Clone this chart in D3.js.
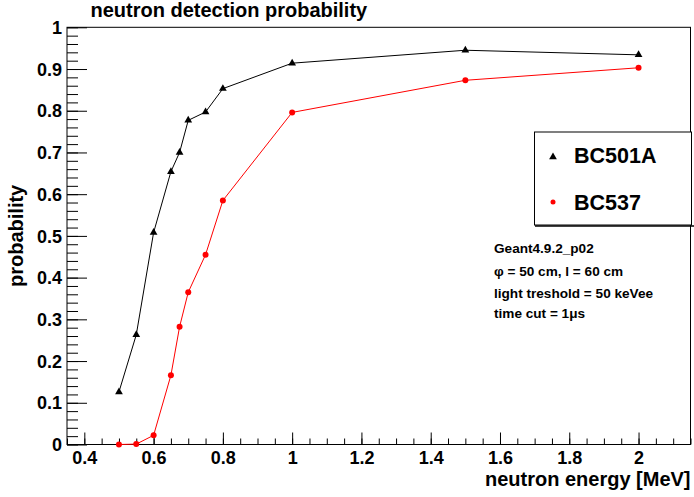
<!DOCTYPE html>
<html>
<head>
<meta charset="utf-8">
<script src="https://cdn.jsdelivr.net/npm/d3@7"></script>
<style>
  html, body { margin: 0; padding: 0; background: #fff; }
  svg { display: block; }
  text { font-family: "Liberation Sans", Arial, sans-serif; font-weight: bold; fill: #000; }
</style>
</head>
<body>
<svg id="chart" width="694" height="497"></svg>
<script>
// ---- data ----
const energy = [0.5, 0.55, 0.6, 0.65, 0.675, 0.7, 0.75, 0.8, 1.0, 1.5, 2.0];
const bc501a = [0.126, 0.263, 0.508, 0.654, 0.700, 0.777, 0.797, 0.853, 0.914, 0.945, 0.934];
const bc537  = [0.000, 0.001, 0.022, 0.166, 0.282, 0.365, 0.455, 0.585, 0.796, 0.873, 0.903];
const seriesNames = ["BC501A", "BC537"];
const xTicks = [0.4, 0.6, 0.8, 1.0, 1.2, 1.4, 1.6, 1.8, 2.0];
const yTicks = [0, 0.1, 0.2, 0.3, 0.4, 0.5, 0.6, 0.7, 0.8, 0.9, 1.0];
const notes = ["Geant4.9.2_p02", "φ = 50 cm, l = 60 cm", "light treshold = 50 keVee", "time cut = 1μs"];
const titleText = "neutron detection probability";
const xTitle = "neutron energy [MeV]";
const yTitle = "probability";

// ---- layout ----
const L = 67, R = 690.5, T = 27.3, B = 444.5;
const svg = d3.select("#chart");
const x = d3.scaleLinear().domain([0.35, 2.15]).range([L, R]);
const y = d3.scaleLinear().domain([0, 1]).range([B, T]);

// frame
svg.append("rect").attr("x", L).attr("y", T).attr("width", R - L).attr("height", B - T)
  .attr("fill", "none").attr("stroke", "#000").attr("stroke-width", 1);

// x axis (ticks drawn inward, upward)
const xMinor = d3.range(0, 37).map(i => +(0.35 + i * 0.05).toFixed(3)).filter(v => v <= 2.15);
const xAxisMinor = d3.axisBottom(x).tickValues(xMinor).tickSize(-6).tickFormat("");
const xAxisMajor = d3.axisBottom(x).tickValues(xTicks).tickSize(-12).tickPadding(20)
  .tickFormat(d => d3.format("")(+d.toFixed(1)));
const gxm = svg.append("g").attr("transform", `translate(0,${B})`).call(xAxisMinor);
const gx = svg.append("g").attr("transform", `translate(0,${B})`).call(xAxisMajor);
[gxm, gx].forEach(g => { g.select(".domain").remove(); g.selectAll("line").attr("stroke", "#000"); });
gx.selectAll("text").attr("font-size", 18).attr("font-family", "Liberation Sans").attr("font-weight", "bold")
  .attr("fill", "#000").attr("dy", null).attr("y", 19);

// y axis (ticks drawn inward, right)
const yMinor = d3.range(0, 51).map(i => +(i * 0.02).toFixed(3));
const yAxisMinor = d3.axisLeft(y).tickValues(yMinor).tickSize(-11).tickFormat("");
const yAxisMajor = d3.axisLeft(y).tickValues(yTicks).tickSize(-20).tickPadding(25)
  .tickFormat(d => d3.format("")(+d.toFixed(1)));
const gym = svg.append("g").attr("transform", `translate(${L},0)`).call(yAxisMinor);
const gy = svg.append("g").attr("transform", `translate(${L},0)`).call(yAxisMajor);
[gym, gy].forEach(g => { g.select(".domain").remove(); g.selectAll("line").attr("stroke", "#000"); });
gy.selectAll("text").attr("font-size", 18).attr("font-family", "Liberation Sans").attr("font-weight", "bold")
  .attr("fill", "#000").attr("x", -5).attr("dy", "0.34em");

// titles
svg.append("text").attr("x", 90.5).attr("y", 17).attr("font-size", 20).text(titleText);
svg.append("text").attr("x", R).attr("y", 486).attr("text-anchor", "end").attr("font-size", 20).text(xTitle);
svg.append("text").attr("transform", `translate(23,${(T + B) / 2}) rotate(-90)`)
  .attr("text-anchor", "middle").attr("font-size", 20).text(yTitle);

// series
const clip = svg.append("clipPath").attr("id", "clip").append("rect")
  .attr("x", L).attr("y", T).attr("width", R - L).attr("height", B - T);
const line = d3.line().x(d => x(d[0])).y(d => y(d[1]));
const dataA = energy.map((e, i) => [e, bc501a[i]]);
const dataB = energy.map((e, i) => [e, bc537[i]]);
const plot = svg.append("g");
plot.append("path").datum(dataA).attr("d", line).attr("fill", "none").attr("stroke", "#000").attr("stroke-width", 1);
plot.append("path").datum(dataB).attr("d", line).attr("fill", "none").attr("stroke", "#ff0000").attr("stroke-width", 1);
const tri = d3.symbol().type(d3.symbolTriangle).size(26);
plot.selectAll(".tri").data(dataA).enter().append("path")
  .attr("d", tri).attr("transform", d => `translate(${x(d[0])},${y(d[1])})`).attr("fill", "#000");
plot.selectAll(".dot").data(dataB).enter().append("circle")
  .attr("cx", d => x(d[0])).attr("cy", d => y(d[1])).attr("r", 3).attr("fill", "#ff0000");

// legend
const lg = svg.append("g");
lg.append("rect").attr("x", 534.5).attr("y", 132).attr("width", 157).attr("height", 93)
  .attr("fill", "#fff").attr("stroke", "#000").attr("stroke-width", 1);
lg.append("line").attr("x1", 535).attr("x2", 694).attr("y1", 226).attr("y2", 226).attr("stroke", "#000").attr("stroke-width", 1.5);
lg.append("path").attr("d", tri).attr("transform", "translate(553,157)").attr("fill", "#000");
lg.append("circle").attr("cx", 553).attr("cy", 202).attr("r", 2.5).attr("fill", "#ff0000");
lg.append("text").attr("x", 574).attr("y", 163.3).attr("font-size", 21.5).text(seriesNames[0]);
lg.append("text").attr("x", 574).attr("y", 210).attr("font-size", 21.5).text(seriesNames[1]);

// notes
const noteY = [253, 275.5, 297.5, 318.3];
svg.selectAll(".note").data(notes).enter().append("text")
  .attr("x", 494).attr("y", (d, i) => noteY[i]).attr("font-size", 13.6).text(d => d);
</script>
</body>
</html>
